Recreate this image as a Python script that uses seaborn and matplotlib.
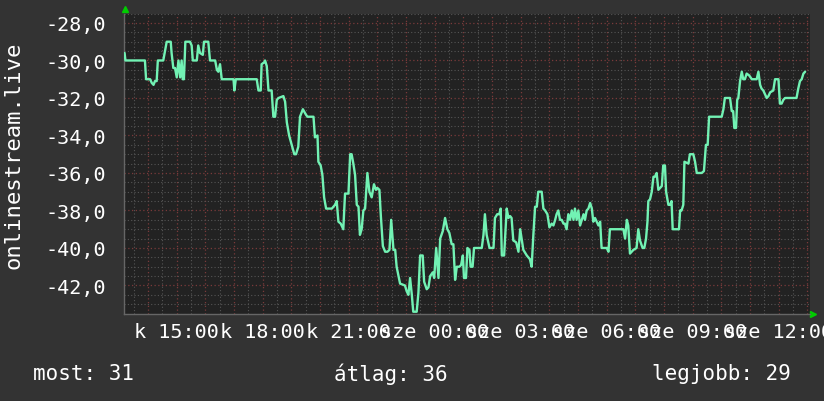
import pandas as pd
import seaborn as sns
import matplotlib.pyplot as plt
from matplotlib.ticker import MultipleLocator, FuncFormatter

# hours since Tuesday 00:00 (values > 24 are Wednesday)
hours = [
    13.18, 13.21, 13.89, 13.93, 14.07, 14.13, 14.19, 14.24, 14.30, 14.34,
    14.53, 14.59, 14.65, 14.79, 14.82, 14.88, 14.94, 15.00, 15.06, 15.12,
    15.17, 15.21, 15.25, 15.30, 15.46, 15.52, 15.56, 15.70, 15.75, 15.81,
    15.91, 15.95, 16.10, 16.16, 16.34, 16.40, 16.45, 16.51, 16.57, 16.98,
    17.01, 17.06, 17.79, 17.85, 17.93, 17.96, 18.05, 18.08, 18.14, 18.20,
    18.31, 18.37, 18.43, 18.49, 18.55, 18.72, 18.78, 18.84, 18.92, 19.01,
    19.10, 19.16, 19.24, 19.30, 19.40, 19.51, 19.56, 19.77, 19.82, 19.91,
    19.94, 20.02, 20.08, 20.14, 20.21, 20.41, 20.52, 20.58, 20.64, 20.72,
    20.81, 20.87, 20.99, 21.05, 21.10, 21.16, 21.22, 21.28, 21.34, 21.39,
    21.45, 21.51, 21.57, 21.65, 21.72, 21.80, 21.88, 21.95, 22.00, 22.07,
    22.12, 22.19, 22.27, 22.35, 22.42, 22.48, 22.56, 22.62, 22.67, 22.79,
    22.96, 23.02, 23.08, 23.14, 23.20, 23.25, 23.37, 23.43, 23.49, 23.58,
    23.63, 23.72, 23.78, 23.84, 23.93, 23.98, 24.05, 24.13, 24.19, 24.28,
    24.36, 24.44, 24.51, 24.59, 24.65, 24.71, 24.77, 24.86, 24.92, 24.98,
    25.02, 25.09, 25.14, 25.21, 25.25, 25.32, 25.37, 25.64, 25.70, 25.75,
    25.81, 25.91, 26.05, 26.10, 26.18, 26.25, 26.30, 26.34, 26.42, 26.51,
    26.57, 26.63, 26.68, 26.74, 26.84, 26.92, 26.98, 27.03, 27.09, 27.21,
    27.32, 27.38, 27.44, 27.50, 27.56, 27.61, 27.73, 27.79, 27.85, 27.93,
    28.00, 28.08, 28.14, 28.20, 28.25, 28.31, 28.37, 28.43, 28.49, 28.54,
    28.60, 28.66, 28.72, 28.78, 28.84, 28.89, 28.95, 29.01, 29.07, 29.13,
    29.19, 29.24, 29.30, 29.36, 29.42, 29.48, 29.53, 29.59, 29.65, 29.71,
    29.77, 29.82, 30.00, 30.06, 30.11, 30.58, 30.64, 30.70, 30.75, 30.81,
    30.93, 31.04, 31.10, 31.16, 31.25, 31.31, 31.37, 31.42, 31.45, 31.51,
    31.57, 31.63, 31.68, 31.74, 31.80, 31.92, 31.97, 32.03, 32.07, 32.15,
    32.21, 32.26, 32.30, 32.52, 32.56, 32.61, 32.67, 32.71, 32.85, 32.90,
    33.02, 33.08, 33.14, 33.31, 33.39, 33.46, 33.52, 33.57, 34.01, 34.07,
    34.12, 34.30, 34.36, 34.41, 34.45, 34.51, 34.55, 34.59, 34.65, 34.71,
    34.76, 34.82, 34.88, 34.97, 35.06, 35.23, 35.29, 35.35, 35.40, 35.46,
    35.52, 35.58, 35.64, 35.70, 35.81, 35.87, 35.99, 36.04, 36.10, 36.16,
    36.22, 36.62, 36.68, 36.74, 36.80, 36.86, 36.92,
]

values = [
    -29.6, -30.0, -30.0, -31.0, -31.0, -31.2, -31.3, -31.1, -31.1, -30.0,
    -30.0, -29.5, -29.0, -29.0, -29.6, -30.4, -30.4, -30.9, -30.0, -30.9,
    -30.0, -31.0, -31.0, -29.0, -29.0, -29.2, -30.0, -30.0, -29.2, -29.6,
    -29.7, -29.0, -29.0, -30.0, -30.0, -30.5, -30.6, -30.2, -31.0, -31.0,
    -31.6, -31.0, -31.0, -31.6, -31.6, -30.2, -30.1, -30.0, -30.3, -31.6,
    -31.6, -33.0, -33.0, -32.1, -32.0, -31.9, -32.2, -33.3, -34.0, -34.5,
    -35.0, -35.0, -34.6, -33.0, -32.6, -32.9, -33.0, -33.0, -34.1, -34.0,
    -35.4, -35.6, -36.1, -37.3, -37.9, -37.9, -37.7, -37.5, -38.6, -38.7,
    -39.0, -37.1, -37.1, -35.0, -35.0, -35.5, -36.1, -37.7, -37.8, -39.3,
    -39.0, -38.0, -37.9, -36.0, -37.0, -37.3, -36.6, -36.9, -36.8, -36.9,
    -38.3, -39.9, -40.2, -40.2, -40.1, -38.5, -40.1, -40.1, -41.0, -41.9,
    -42.0, -42.3, -42.5, -41.6, -42.5, -43.4, -43.4, -42.4, -40.4, -40.4,
    -41.8, -42.2, -42.1, -41.5, -41.3, -41.6, -40.0, -41.6, -39.5, -39.1,
    -38.4, -39.0, -39.2, -39.8, -39.8, -41.7, -41.0, -41.0, -40.9, -40.4,
    -41.6, -41.6, -40.0, -40.1, -41.0, -41.0, -40.0, -40.0, -39.3, -38.2,
    -39.3, -40.0, -40.0, -38.4, -38.2, -38.2, -37.9, -40.4, -40.4, -37.9,
    -38.4, -38.3, -38.4, -39.6, -39.7, -40.2, -39.0, -39.5, -40.1, -40.4,
    -40.6, -41.0, -39.3, -37.8, -37.8, -37.0, -37.0, -37.9, -38.0, -38.2,
    -38.9, -38.7, -38.8, -38.5, -38.2, -38.0, -38.5, -38.5, -38.7, -38.7,
    -39.0, -38.2, -38.5, -38.0, -38.5, -37.9, -38.5, -38.0, -38.8, -38.5,
    -38.2, -38.5, -38.0, -37.9, -37.6, -37.9, -38.6, -38.4, -38.6, -38.8,
    -38.6, -40.0, -40.0, -40.2, -39.0, -39.0, -39.5, -38.5, -38.8, -40.3,
    -40.1, -40.0, -39.0, -39.6, -40.0, -40.0, -39.5, -38.6, -37.5, -37.4,
    -37.0, -36.2, -36.2, -36.0, -36.9, -36.7, -35.6, -35.6, -37.0, -37.7,
    -37.7, -37.5, -39.0, -39.0, -38.0, -38.0, -37.7, -35.4, -35.5, -35.0,
    -35.0, -35.4, -36.0, -36.0, -35.9, -34.5, -34.5, -33.0, -33.0, -32.6,
    -32.0, -32.0, -32.7, -32.7, -33.6, -33.6, -32.1, -32.0, -31.1, -30.6,
    -31.0, -31.0, -30.7, -30.8, -31.0, -31.0, -30.6, -31.3, -31.5, -31.6,
    -31.8, -32.0, -31.9, -31.7, -31.6, -31.0, -31.0, -32.3, -32.3, -32.1,
    -32.0, -32.0, -31.5, -31.1, -31.0, -30.7, -30.6,
]

ylabel = "onlinestream.live"
footer = ["most: 31", "átlag: 36", "legjobb: 29"]

df = pd.DataFrame({"hour": hours, "value": values})

sns.set_style("dark")
plt.rcParams['font.family'] = ['DejaVu Sans Mono', 'DejaVu Sans']

fig = plt.figure(figsize=(8.24, 4.02), dpi=100, facecolor='#333333')
ax = fig.add_axes([124 / 824, 87.4 / 402, 686 / 824, 300 / 402])
ax.set_facecolor('#222222')

sns.lineplot(data=df, x='hour', y='value', ax=ax, color='#72f2b4', lw=1.7,
             estimator=None, sort=False, zorder=3)

ax.set_xlim(13.16, 37.09)
ax.set_ylim(-43.5, -27.5)
ax.set_xlabel("")
ax.set_ylabel("")

ax.xaxis.set_major_locator(MultipleLocator(1))
ax.xaxis.set_minor_locator(MultipleLocator(0.5))
ax.yaxis.set_major_locator(MultipleLocator(2))
ax.yaxis.set_minor_locator(MultipleLocator(0.5))


def hour_label(h, pos):
    hh = int(round(h))
    if hh % 3:
        return ""
    day = "k" if hh < 24 else "sze"
    return f"{day} {hh % 24:02d}:00"


ax.xaxis.set_major_formatter(FuncFormatter(hour_label))
ax.yaxis.set_major_formatter(FuncFormatter(lambda v, p: f"{v:.1f}".replace(".", ",")))

ax.grid(which='minor', color='#555555', ls=(0, (1, 2)), lw=0.8)
ax.grid(which='major', color='#7a3a3a', ls=(0, (1, 2)), lw=0.9)

ax.tick_params(which='major', length=3, width=1, color='#7a3a3a',
               labelcolor='white', labelsize=14.5)
ax.tick_params(axis='y', which='major', pad=10)
ax.tick_params(axis='x', which='major', pad=3)
ax.tick_params(which='minor', length=2, width=1, color='#666666')

for name, sp in ax.spines.items():
    sp.set_visible(name in ('bottom', 'left'))
    sp.set_color('#666666')
    sp.set_linewidth(1)

# green arrow heads at axis ends
ax.plot([0.002], [1.015], marker='^', color='#00cc00', ms=5,
        transform=ax.transAxes, clip_on=False)
ax.plot([1.004], [0.0], marker='>', color='#00cc00', ms=5,
        transform=ax.transAxes, clip_on=False)

fig.text(14 / 824, 1 - 155 / 402, ylabel, rotation=90, ha='center',
         va='center', color='white', fontsize=16)

for txt, x in zip(footer, [33, 334, 652]):
    fig.text(x / 824, 0.07, txt, ha='left', va='center', color='white', fontsize=15)

fig.savefig('out.png', dpi=100, facecolor=fig.get_facecolor())
